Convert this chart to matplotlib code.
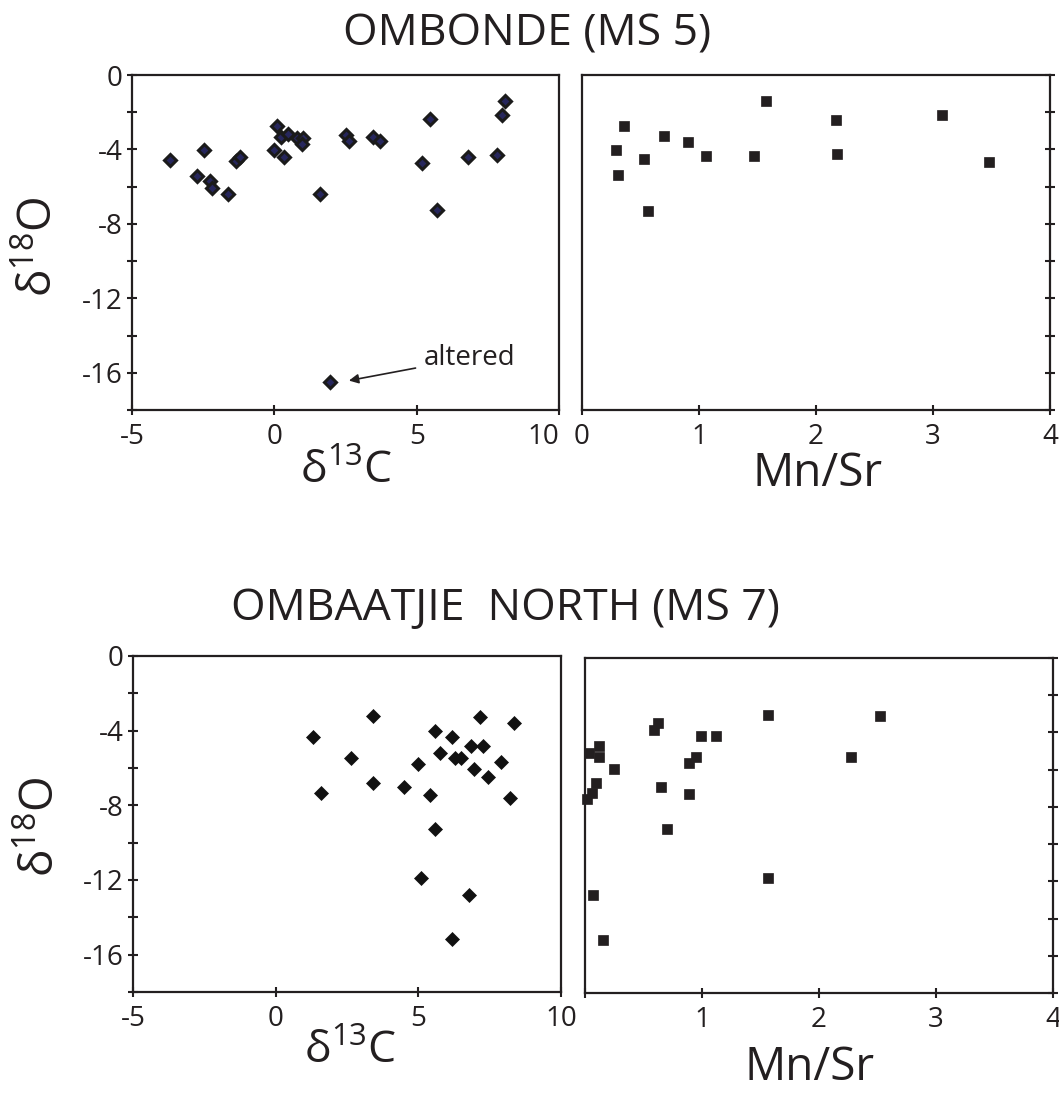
import matplotlib
matplotlib.use("Agg")
import matplotlib.pyplot as plt
from matplotlib.ticker import FixedLocator, NullFormatter, FixedFormatter

plt.rcParams['font.family'] = ['Open Sans', 'DejaVu Sans']
plt.rcParams['mathtext.fontset'] = 'custom'
plt.rcParams['mathtext.rm'] = 'Open Sans'
plt.rcParams['mathtext.it'] = 'Open Sans'
plt.rcParams['mathtext.bf'] = 'Open Sans'
plt.rcParams['axes.unicode_minus'] = False

INK = '#231f20'

# OMBONDE (MS 5): d13C vs d18O
d13c_ms5 = [-3.66, -2.70, -2.46, -2.27, -2.18, -1.62, -1.34, -1.20, -0.02, 0.09,
            0.23, 0.33, 0.47, 0.81, 1.02, 0.97, 1.59, 2.53, 2.62, 3.47,
            3.72, 1.95, 5.20, 5.46, 5.73, 6.80, 7.82, 8.00, 8.11]
d18o_ms5 = [-4.56, -5.42, -4.02, -5.67, -6.08, -6.40, -4.61, -4.43, -4.02, -2.73,
            -3.31, -4.38, -3.16, -3.40, -3.40, -3.70, -6.40, -3.25, -3.52, -3.31,
            -3.57, -16.5, -4.74, -2.36, -7.27, -4.38, -4.29, -2.14, -1.39]

# OMBONDE (MS 5): Mn/Sr vs d18O
mnsr_ms5 = [0.29, 0.31, 0.36, 0.53, 0.56, 0.70, 0.91, 1.06, 1.47, 1.57, 2.17, 2.18, 3.08, 3.48]
d18o_ms5_mn = [-4.02, -5.38, -2.73, -4.52, -7.29, -3.27, -3.59, -4.36, -4.36, -1.39,
               -2.41, -4.27, -2.16, -4.68]

# OMBAATJIE NORTH (MS 7): d13C vs d18O
d13c_ms7 = [1.30, 1.59, 2.63, 3.41, 3.41, 4.50, 4.98, 5.09, 5.41, 5.58,
            5.58, 5.76, 6.19, 6.27, 6.50, 6.19, 6.83, 6.79, 6.96, 7.16,
            7.28, 7.45, 7.89, 8.23, 8.35]
d18o_ms7 = [-4.33, -7.33, -5.45, -3.20, -6.83, -7.01, -5.76, -11.89, -7.42, -4.00,
            -9.29, -5.22, -4.33, -5.45, -5.45, -15.18, -4.83, -12.82, -6.08, -3.29,
            -4.83, -6.47, -5.67, -7.63, -3.58]

# OMBAATJIE NORTH (MS 7): Mn/Sr vs d18O
mnsr_ms7 = [0.02, 0.06, 0.09, 0.03, 0.12, 0.12, 0.25, 0.07, 0.15, 0.59,
            0.62, 0.65, 0.70, 0.89, 0.89, 0.95, 0.99, 1.12, 1.56, 1.56,
            2.27, 2.52]
d18o_ms7_mn = [-7.55, -7.23, -6.69, -5.12, -4.73, -5.30, -5.98, -12.74, -15.14, -3.86,
               -3.47, -6.91, -9.20, -5.65, -7.32, -5.34, -4.18, -4.18, -3.04, -11.81,
               -5.34, -3.14]

d18o_major = [0, -4, -8, -12, -16]
d18o_minor = [-2, -6, -10, -14, -18]
d13c_ticks = [-5, 0, 5, 10]
d13c_labels = ['-5', '0', '5', '10']
mnsr_ticks = [0, 1, 2, 3, 4]

W, H = 1059, 1095
fig = plt.figure(figsize=(W / 100, H / 100), dpi=100)


def px_axes(left, top, right, bottom):
    return fig.add_axes([left / W, 1 - bottom / H, (right - left) / W, (bottom - top) / H])


def style(ax):
    for s in ax.spines.values():
        s.set_linewidth(1.6)
        s.set_color(INK)
    ax.set_ylim(-18, 0)
    ax.yaxis.set_major_locator(FixedLocator(d18o_major))
    ax.yaxis.set_minor_locator(FixedLocator(d18o_minor))
    ax.tick_params(which='both', direction='inout', length=7, width=1.5,
                   color=INK, labelsize=20, labelcolor=INK)
    ax.tick_params(axis='y', pad=3)
    ax.tick_params(axis='x', pad=6)
    ax.yaxis.set_minor_formatter(NullFormatter())


def left_panel(ax, x, y, **mk):
    style(ax)
    ax.set_xlim(-5, 10)
    ax.xaxis.set_major_locator(FixedLocator(d13c_ticks))
    ax.xaxis.set_major_formatter(FixedFormatter(d13c_labels))
    ax.plot(x, y, linestyle='none', marker='D', clip_on=False, **mk)


def right_panel(ax, x, y, labels):
    style(ax)
    ax.set_xlim(0, 4)
    ax.xaxis.set_major_locator(FixedLocator(mnsr_ticks))
    ax.xaxis.set_major_formatter(FixedFormatter(labels))
    ax.yaxis.tick_right()
    ax.yaxis.set_major_formatter(NullFormatter())
    ax.plot(x, y, linestyle='none', marker='s', markersize=7.4,
            markerfacecolor=INK, markeredgecolor=INK, markeredgewidth=0.5, clip_on=False)


# top row
ax1 = px_axes(132, 75, 559, 410)
left_panel(ax1, d13c_ms5, d18o_ms5, markersize=6.2, markerfacecolor='#26265c',
           markeredgecolor='#1a1a1a', markeredgewidth=2.2)
ax1.get_xticklabels()[-1].set_horizontalalignment('right')
ax1.annotate('altered', xy=(2.62, -16.42), xytext=(5.25, -15.2),
             fontsize=20, color=INK, va='center', ha='left',
             arrowprops=dict(arrowstyle='-|>', color=INK, lw=1.2,
                             mutation_scale=14, shrinkA=4, shrinkB=0))

ax2 = px_axes(582, 75, 1050, 410)
right_panel(ax2, mnsr_ms5, d18o_ms5_mn, ['0', '1', '2', '3', '4'])

# bottom row
ax3 = px_axes(133, 656, 561, 992)
left_panel(ax3, d13c_ms7, d18o_ms7, markersize=6.8, markerfacecolor='#111111',
           markeredgecolor='#111111', markeredgewidth=0.5)

ax4 = px_axes(585, 658, 1053, 993)
right_panel(ax4, mnsr_ms7, d18o_ms7_mn, ['', '1', '2', '3', '4'])


# titles and axis names
def ftext(x, y, s, **kw):
    fig.text(x / W, 1 - y / H, s, color=INK, ha='center', va='center', **kw)


ftext(527, 34, 'OMBONDE (MS 5)', fontsize=32)
ftext(505, 609, 'OMBAATJIE  NORTH (MS 7)', fontsize=32)

ftext(40, 247, r'δ$^{18}$O', fontsize=33, rotation=90)
ftext(42, 827, r'δ$^{18}$O', fontsize=33, rotation=90)
ftext(346, 472, r'δ$^{13}$C', fontsize=32)
ftext(350, 1052, r'δ$^{13}$C', fontsize=32)
ftext(818, 474, 'Mn/Sr', fontsize=33)
ftext(810, 1068, 'Mn/Sr', fontsize=33)

fig.savefig('out.png', dpi=100, facecolor='white')
